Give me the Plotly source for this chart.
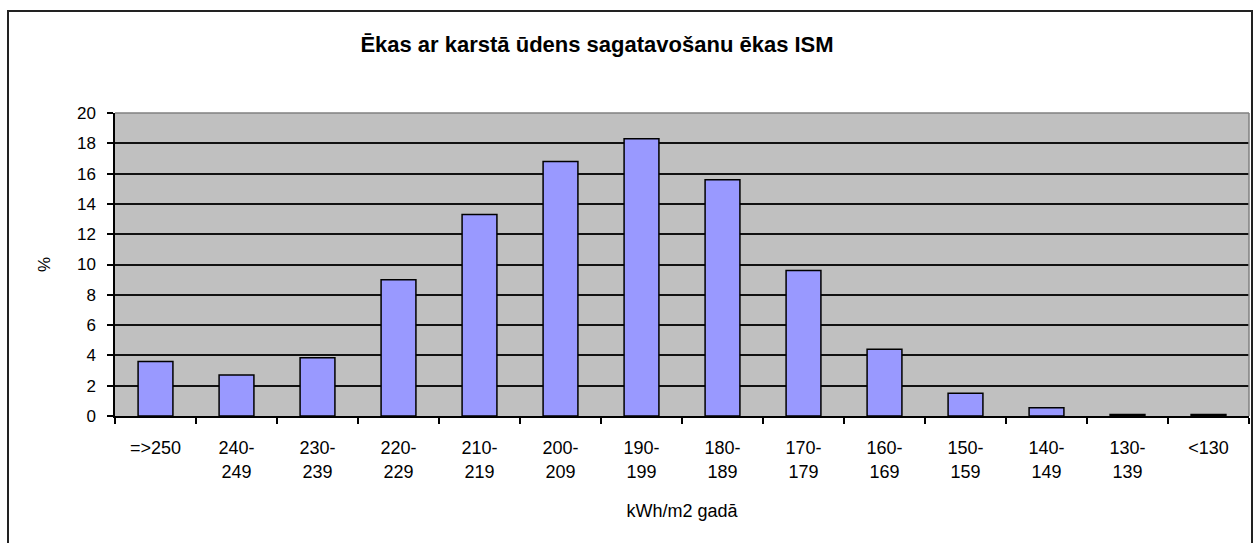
import plotly.graph_objects as go

# Energy-use classes (kWh/m2 per year) and share of buildings in each class, %
categories = ["=>250", "240-249", "230-239", "220-229", "210-219", "200-209", "190-199",
              "180-189", "170-179", "160-169", "150-159", "140-149", "130-139", "<130"]
tick_labels = ["=>250", "240-<br>249", "230-<br>239", "220-<br>229", "210-<br>219",
               "200-<br>209", "190-<br>199", "180-<br>189", "170-<br>179", "160-<br>169",
               "150-<br>159", "140-<br>149", "130-<br>139", "<130"]
share_pct = [3.6, 2.7, 3.85, 9.0, 13.3, 16.8, 18.3, 15.6, 9.6, 4.4, 1.5, 0.55, 0.1, 0.1]
y_ticks = [0, 2, 4, 6, 8, 10, 12, 14, 16, 18, 20]

FONT = "Liberation Sans, Arial, sans-serif"

fig = go.Figure(
    go.Bar(
        x=categories,
        y=share_pct,
        marker=dict(color="#9999ff", line=dict(color="#000000", width=1.5)),
        width=0.43,
    )
)

fig.update_layout(
    width=1255,
    height=543,
    margin=dict(l=115, r=6, t=113, b=127),
    paper_bgcolor="#ffffff",
    plot_bgcolor="#c0c0c0",
    showlegend=False,
    font=dict(family=FONT, size=15, color="#000000"),
    title=dict(
        text="<b>Ēkas ar karstā ūdens sagatavošanu ēkas ISM</b>",
        x=597 / 1255,
        xanchor="center",
        y=1 - 44 / 543,
        yanchor="middle",
        font=dict(family=FONT, size=22, color="#000000"),
    ),
    xaxis=dict(
        tickmode="array",
        tickvals=categories,
        ticktext=tick_labels,
        tickangle=0,
        tickson="boundaries",
        ticks="outside",
        ticklen=6,
        tickwidth=1.5,
        tickcolor="#000000",
        showline=True,
        linecolor="#000000",
        linewidth=1.5,
        showgrid=False,
        ticklabelstandoff=15,
        tickfont=dict(family=FONT, size=18),
        title=dict(text="kWh/m2 gadā", font=dict(family=FONT, size=18), standoff=24),
        range=[-0.5, len(categories) - 0.5],
    ),
    yaxis=dict(
        range=[0, 20],
        tickvals=y_ticks,
        ticks="outside",
        ticklen=6,
        tickwidth=1.5,
        tickcolor="#000000",
        showline=True,
        linecolor="#000000",
        linewidth=1.5,
        showgrid=True,
        gridcolor="#111111",
        gridwidth=1.5,
        zeroline=False,
        ticklabelstandoff=8,
        tickfont=dict(family=FONT, size=17),
        title=dict(text="%", font=dict(family=FONT, size=17), standoff=22),
    ),
    shapes=[
        # grey plot-area border on the top and right edges
        dict(type="line", xref="paper", yref="paper", x0=0, x1=1, y0=1, y1=1,
             line=dict(color="#808080", width=1.5), layer="above"),
        dict(type="line", xref="paper", yref="paper", x0=1, x1=1, y0=0, y1=1,
             line=dict(color="#808080", width=1.5), layer="above"),
        # outer chart frame
        dict(type="rect", xref="paper", yref="paper",
             x0=(8 - 115) / 1134, x1=(1252 - 115) / 1134,
             y0=(416 - 560) / 303, y1=(416 - 11) / 303,
             line=dict(color="#222222", width=2), fillcolor="rgba(0,0,0,0)", layer="below"),
    ],
)

fig.write_html("out.html")
